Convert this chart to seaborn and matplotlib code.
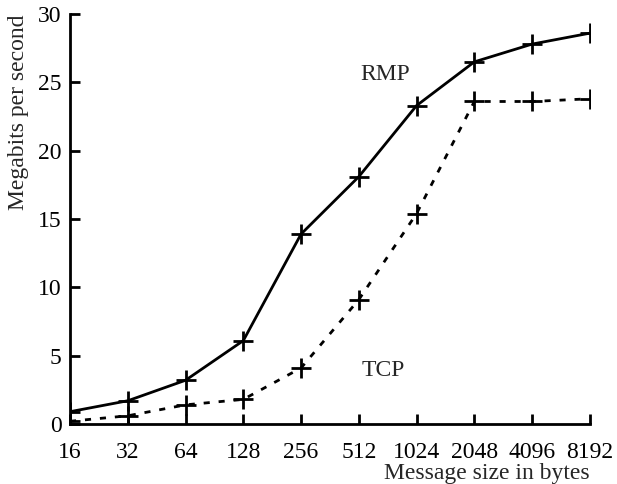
import pandas as pd
import matplotlib.pyplot as plt
import seaborn as sns
from matplotlib.ticker import FixedLocator, FixedFormatter, NullLocator

# message sizes (bytes) and throughput (Mbit/s)
sizes = [16, 32, 64, 128, 256, 512, 1024, 2048, 4096, 8192]
rmp = [0.9, 1.7, 3.2, 6.1, 13.9, 18.1, 23.3, 26.5, 27.8, 28.6]
tcp = [0.2, 0.6, 1.4, 1.8, 4.1, 9.1, 15.4, 23.6, 23.6, 23.8]
yticks = [0, 5, 10, 15, 20, 25, 30]

sns.set_style('ticks')
plt.rcParams['font.family'] = ['Liberation Serif', 'DejaVu Serif']
fs = 17

fig = plt.figure(figsize=(6.17, 4.84), dpi=100)
ax = fig.add_axes([0.1135, 0.124, 0.8425, 0.847])

rmp_df = pd.DataFrame({'size': sizes, 'rate': rmp})
tcp_df = pd.DataFrame({'size': sizes, 'rate': tcp})

mk = dict(marker='+', markersize=15, markeredgewidth=2, markeredgecolor='black')
sns.lineplot(data=rmp_df, x='size', y='rate', ax=ax, color='black', linewidth=2, **mk)
sns.lineplot(data=tcp_df, x='size', y='rate', ax=ax, color='black', linewidth=2,
             linestyle=(0, (2.2, 3.2)), **mk)

ax.set_xscale('log', base=2)
ax.set_xlim(16, 8192)
ax.set_ylim(0, 30)
ax.xaxis.set_major_locator(FixedLocator(sizes))
ax.xaxis.set_major_formatter(FixedFormatter([str(s) for s in sizes]))
ax.xaxis.set_minor_locator(NullLocator())
ax.set_yticks(yticks)

ax.tick_params(direction='in', length=7, width=2, colors='black', labelsize=fs)
ax.tick_params(axis='x', pad=13)
ax.tick_params(axis='y', pad=6)
for side in ['left', 'bottom']:
    ax.spines[side].set_linewidth(2)
    ax.spines[side].set_color('black')
sns.despine(ax=ax)

ax.set_xlabel('Message size in bytes', fontsize=fs, ha='right')
ax.xaxis.set_label_coords(1.0, -0.095)
ax.set_ylabel('Megabits per second', fontsize=fs, ha='center')
ax.yaxis.set_label_coords(-0.079, 0.76)

ax.text(2 ** 9.45, 25.6, 'RMP', fontsize=fs, ha='center', va='center')
ax.text(2 ** 9.43, 3.9, 'TCP', fontsize=fs, ha='center', va='center')

fig.savefig('out.png', dpi=100)
